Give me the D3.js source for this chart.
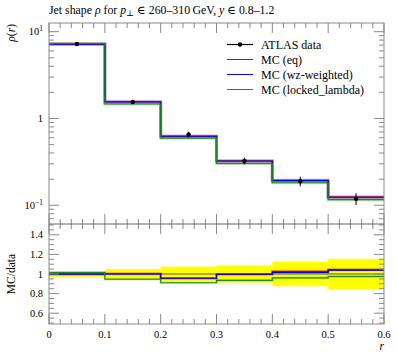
<!DOCTYPE html>
<html>
<head>
<meta charset="utf-8">
<script src="https://cdn.jsdelivr.net/npm/d3@7"></script>
<style>
  body { margin: 0; background: #fff; }
  svg text { font-family: "Liberation Serif", "DejaVu Serif", serif; fill: #000; }
</style>
</head>
<body>
<div id="chart"></div>
<script>
// bin edges in r
const edges = [0, 0.1, 0.2, 0.3, 0.4, 0.5, 0.6];
// ATLAS data rho(r) and relative uncertainty
const dataVals = [7.2, 1.55, 0.653, 0.324, 0.189, 0.119];
const dataRelErr = [0.03, 0.05, 0.075, 0.087, 0.125, 0.155];
// MC / data ratios
const ratioEq = [1.0, 1.005, 0.956, 0.997, 1.027, 1.045];
const ratioWz = [0.998, 1.0, 0.956, 0.997, 1.017, 1.04];
const ratioLocked = [1.015, 0.946, 0.91, 0.935, 0.96, 0.975];
const ratioTicks = [0.6, 0.8, 1, 1.2, 1.4];
const xTicks = [0, 0.1, 0.2, 0.3, 0.4, 0.5, 0.6];

const width = 397, height = 358;
const pL = 49, pR = 384, pT = 23, pM = 224, pB = 324;
const serif = "'Liberation Serif', 'DejaVu Serif', serif";

const svg = d3.select("#chart").append("svg")
  .attr("width", width).attr("height", height)
  .attr("font-family", serif);

const x = d3.scaleLinear().domain([0, 0.6]).range([pL, pR]);
const y = d3.scaleLog().domain([Math.pow(10, -1.216), Math.pow(10, 1.1)]).range([pM, pT]);
const yr = d3.scaleLinear().domain([0.49, 1.51]).range([pB, pM]);

const series = [
  {name: "MC (eq)", color: "#e00000", ratio: ratioEq},
  {name: "MC (wz-weighted)", color: "#0000e8", ratio: ratioWz},
  {name: "MC (locked_lambda)", color: "#1a8a1a", ratio: ratioLocked}
];
series.forEach(s => { s.vals = s.ratio.map((r, i) => r * dataVals[i]); });

function stepPts(vals) {
  const pts = vals.map((v, i) => [edges[i], v]);
  pts.push([edges[edges.length - 1], vals[vals.length - 1]]);
  return pts;
}

svg.append("clipPath").attr("id", "cm")
  .append("rect").attr("x", pL).attr("y", pT).attr("width", pR - pL).attr("height", pM - pT);

// ---- ratio panel: yellow data band
const band = svg.append("g");
dataRelErr.forEach((e, i) => {
  band.append("rect")
    .attr("x", x(edges[i])).attr("width", x(edges[i + 1]) - x(edges[i]))
    .attr("y", yr(1 + e)).attr("height", yr(1 - e) - yr(1 + e))
    .attr("fill", "#ffff00");
});
svg.append("line").attr("x1", pL).attr("x2", pR)
  .attr("y1", yr(1)).attr("y2", yr(1))
  .attr("stroke", "#555").attr("stroke-width", 1);

// ---- MC lines
const lineMain = d3.line().x(d => x(d[0])).y(d => y(d[1])).curve(d3.curveStepAfter);
const lineRatio = d3.line().x(d => x(d[0])).y(d => yr(d[1])).curve(d3.curveStepAfter);

series.forEach(s => {
  svg.append("path").attr("d", lineMain(stepPts(s.vals)))
    .attr("fill", "none").attr("stroke", s.color).attr("stroke-opacity", 0.3)
    .attr("stroke-width", 3).attr("clip-path", "url(#cm)");
});
series.forEach(s => {
  svg.append("path").attr("d", lineMain(stepPts(s.vals)))
    .attr("fill", "none").attr("stroke", s.color).attr("stroke-width", 1.1)
    .attr("clip-path", "url(#cm)");
});
series.forEach(s => {
  svg.append("path").attr("d", lineRatio(stepPts(s.ratio)))
    .attr("fill", "none").attr("stroke", s.color).attr("stroke-opacity", 0.25)
    .attr("stroke-width", 2.5);
});
series.forEach(s => {
  svg.append("path").attr("d", lineRatio(stepPts(s.ratio)))
    .attr("fill", "none").attr("stroke", s.color).attr("stroke-width", 1.1);
});

// ---- data points
const mids = dataVals.map((v, i) => (edges[i] + edges[i + 1]) / 2);
const dp = svg.append("g");
dataVals.forEach((v, i) => {
  const cx = x(mids[i]);
  dp.append("line").attr("x1", cx).attr("x2", cx)
    .attr("y1", y(v * (1 + dataRelErr[i]))).attr("y2", y(v * (1 - dataRelErr[i])))
    .attr("stroke", "#000").attr("stroke-width", 1);
  dp.append("circle").attr("cx", cx).attr("cy", y(v)).attr("r", 2.2).attr("fill", "#000");
});

// ---- frames and ticks
const frameCol = "#888";
function tickLines(g, vals, fn, len, side, at) {
  vals.forEach(v => {
    const p = fn(v);
    if (side === "bottom") g.append("line").attr("x1", p).attr("x2", p).attr("y1", at).attr("y2", at - len);
    if (side === "top") g.append("line").attr("x1", p).attr("x2", p).attr("y1", at).attr("y2", at + len);
    if (side === "left") g.append("line").attr("y1", p).attr("y2", p).attr("x1", pL).attr("x2", pL + len);
    if (side === "right") g.append("line").attr("y1", p).attr("y2", p).attr("x1", pR).attr("x2", pR - len);
  });
}
const ticks = svg.append("g").attr("stroke", frameCol).attr("stroke-width", 1);
const xMinor = d3.range(0, 0.601, 0.02).filter(v => Math.abs(v * 10 - Math.round(v * 10)) > 1e-6);
[[pM, "bottom"], [pT, "top"], [pB, "bottom"], [pM, "top"]].forEach(([yy, side]) => {
  tickLines(ticks, xTicks, x, 10, side, yy);
  tickLines(ticks, xMinor, x, 5, side, yy);
});
// log ticks
const logMajor = [0.1, 1, 10];
const logMinor = [];
[0.01, 0.1, 1, 10].forEach(d => { for (let k = 2; k <= 9; k++) logMinor.push(d * k); });
const [ymin, ymax] = y.domain();
const lm = logMinor.filter(v => v > ymin && v < ymax);
["left", "right"].forEach(side => {
  tickLines(ticks, logMajor, y, 10, side);
  tickLines(ticks, lm, y, 5, side);
});
const rMinor = d3.range(0.5, 1.501, 0.05).filter(v => ratioTicks.every(t => Math.abs(t - v) > 1e-6));
["left", "right"].forEach(side => {
  tickLines(ticks, ratioTicks, yr, 10, side);
  tickLines(ticks, rMinor, yr, 5, side);
});
svg.append("rect").attr("x", pL).attr("y", pT).attr("width", pR - pL).attr("height", pB - pT)
  .attr("fill", "none").attr("stroke", frameCol).attr("stroke-width", 1);
svg.append("line").attr("x1", pL).attr("x2", pR).attr("y1", pM).attr("y2", pM)
  .attr("stroke", "#666").attr("stroke-width", 1);

// ---- tick labels
const fs = 10.5;
svg.append("g").selectAll("text").data(xTicks).join("text")
  .attr("x", d => x(d)).attr("y", 338).attr("text-anchor", "middle")
  .attr("font-size", fs).text(d => d === 0 ? "0" : d3.format(".1f")(d));
svg.append("g").selectAll("text").data(ratioTicks).join("text")
  .attr("x", 43).attr("y", d => yr(d) + 3.5).attr("text-anchor", "end")
  .attr("font-size", fs).text(d => d === 1 ? "1" : d3.format(".1f")(d));
const logLab = svg.append("g");
logMajor.forEach(v => {
  const t = logLab.append("text").attr("x", 43).attr("y", y(v) + 3.5)
    .attr("text-anchor", "end").attr("font-size", fs);
  if (v === 1) { t.text("1"); return; }
  t.append("tspan").text("10");
  t.append("tspan").attr("dy", -4).attr("font-size", 7.5).text(v === 10 ? "1" : "\u22121");
});

// ---- titles
const title = svg.append("text").attr("x", pL).attr("y", 14).attr("font-size", 11.8);
title.append("tspan").text("Jet shape ");
title.append("tspan").attr("font-style", "italic").text("\u03c1");
title.append("tspan").text(" for ");
title.append("tspan").attr("font-style", "italic").text("p");
title.append("tspan").attr("dy", 2).attr("font-size", 8.5).text("\u22a5");
title.append("tspan").attr("dy", -2).text(" \u2208 260\u2013310\u2009GeV, ");
title.append("tspan").attr("font-style", "italic").text("y");
title.append("tspan").text(" \u2208 0.8\u20131.2");

const yl = svg.append("text").attr("transform", "translate(15,24) rotate(-90)")
  .attr("text-anchor", "end").attr("font-size", 11.5);
yl.append("tspan").attr("font-style", "italic").text("\u03c1");
yl.append("tspan").text("(");
yl.append("tspan").attr("font-style", "italic").text("r");
yl.append("tspan").text(")");

svg.append("text").attr("transform", "translate(15,274) rotate(-90)")
  .attr("text-anchor", "middle").attr("font-size", 11.5).text("MC/data");
svg.append("text").attr("x", pR).attr("y", 350).attr("text-anchor", "end")
  .attr("font-size", 11.5).attr("font-style", "italic").text("r");

// ---- legend
const legItems = [{name: "ATLAS data", color: "#000", data: true}].concat(series);
const leg = svg.append("g");
legItems.forEach((d, i) => {
  const ly = 44.5 + i * 15;
  leg.append("line").attr("x1", 227).attr("x2", 253).attr("y1", ly).attr("y2", ly)
    .attr("stroke", d.color).attr("stroke-width", d.data ? 1.2 : 1);
  if (d.data) leg.append("circle").attr("cx", 240).attr("cy", ly).attr("r", 2.2).attr("fill", "#000");
  leg.append("text").attr("x", 261).attr("y", ly + 4).attr("font-size", 12).text(d.name);
});
</script>
</body>
</html>
